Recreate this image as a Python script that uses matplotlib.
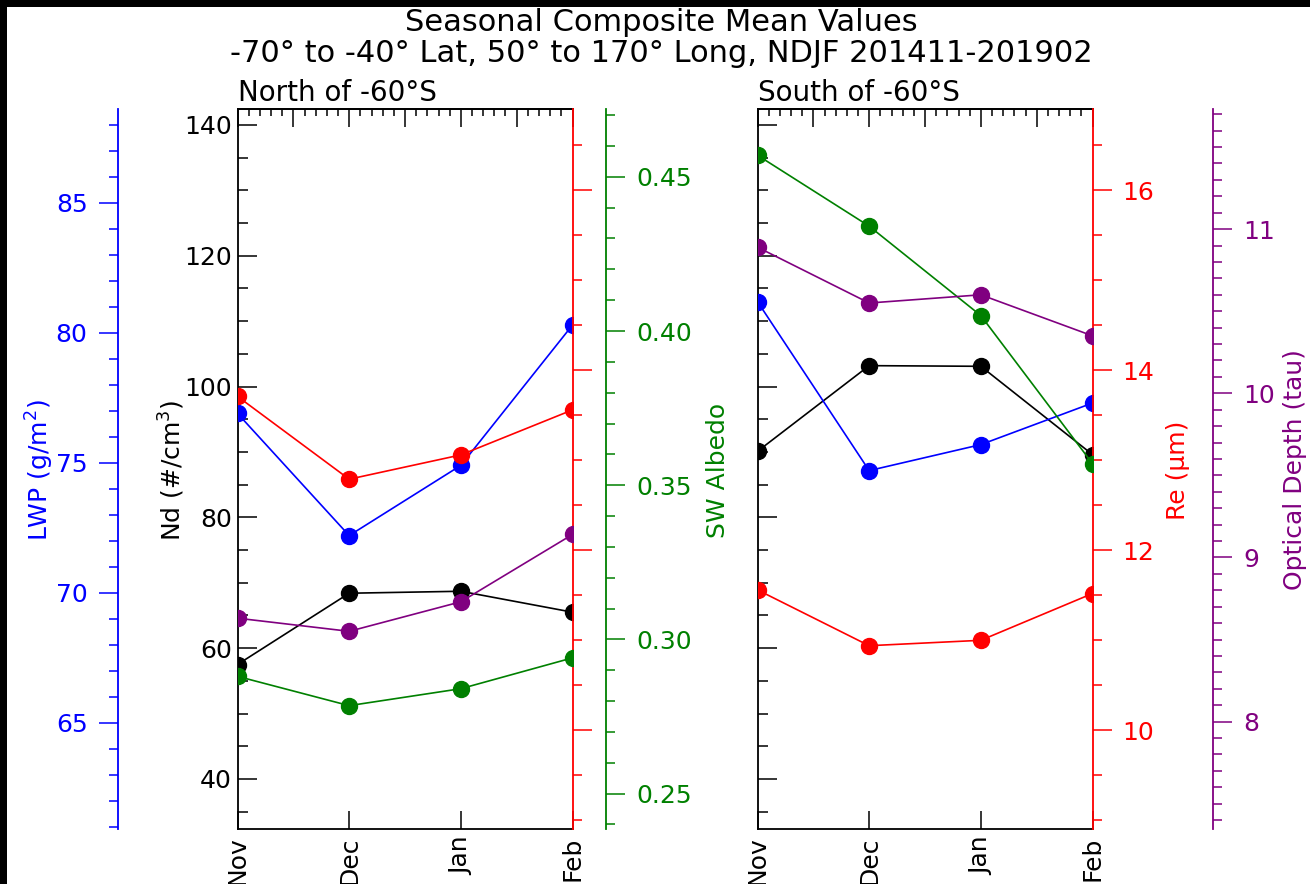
import matplotlib
matplotlib.use('Agg')
import matplotlib.pyplot as plt
from matplotlib.ticker import MultipleLocator, NullFormatter
from matplotlib.patches import Rectangle

months = ['Nov', 'Dec', 'Jan', 'Feb']

# North of -60S
north_nd = [57.5, 68.4, 68.7, 65.5]
north_lwp = [76.9, 72.2, 74.9, 80.3]
north_re = [13.71, 12.79, 13.06, 13.56]
north_albedo = [0.288, 0.2785, 0.284, 0.294]
north_tau = [8.63, 8.55, 8.73, 9.14]

# South of -60S
south_nd = [90.1, 103.2, 103.1, 89.6]
south_lwp = [81.2, 74.7, 75.7, 77.3]
south_re = [11.56, 10.94, 11.0, 11.52]
south_albedo = [0.457, 0.434, 0.405, 0.357]
south_tau = [10.89, 10.55, 10.60, 10.35]

# axis ranges (same in both panels)
nd_lim = (32.3, 142.4)
lwp_lim = (60.9, 88.6)
re_lim = (8.9, 16.9)
albedo_lim = (0.2384, 0.4719)
tau_lim = (7.344, 11.73)

W, H = 1310, 884
FS = 18
BLUE, RED, GREEN, PURPLE = '#0000ff', '#ff0000', '#008000', '#800080'
MS, LW = 11.5, 1.2

fig = plt.figure(figsize=(W / 100, H / 100), dpi=100)
fig.patch.set_facecolor('black')
fig.add_artist(Rectangle((7 / W, 0), 1, 1 - 7 / H, transform=fig.transFigure,
                         facecolor='white', edgecolor='none', zorder=-10))

x = list(range(len(months)))


def make_panel(left_px, title, nd_labels):
    ax = fig.add_axes([left_px / W, 54.7 / H, 335 / W, 720 / H])
    ax.set_xlim(0, 3)
    ax.set_xticks(x)
    ax.set_xticklabels(months, rotation=90, fontsize=FS, va='top')
    ax.tick_params(axis='x', direction='in', length=13, width=1.1, pad=5, top=False)
    # top axis: unlabeled ticks
    top = ax.secondary_xaxis('top')
    top.xaxis.set_major_locator(MultipleLocator(0.5))
    top.xaxis.set_minor_locator(MultipleLocator(0.1))
    top.xaxis.set_major_formatter(NullFormatter())
    top.tick_params(which='major', direction='in', length=13, width=1.1)
    top.tick_params(which='minor', direction='in', length=5, width=1.1)
    top.spines['top'].set_linewidth(1.3)
    ax.set_ylim(nd_lim)
    ax.yaxis.set_major_locator(MultipleLocator(20))
    ax.yaxis.set_minor_locator(MultipleLocator(5))
    ax.tick_params(axis='y', which='major', direction='in', length=14, width=1.1,
                   pad=4, labelsize=FS, labelleft=nd_labels)
    ax.tick_params(axis='y', which='minor', direction='in', length=7, width=1.1)
    ax.spines['right'].set_visible(False)
    for s in ('left', 'bottom', 'top'):
        ax.spines[s].set_linewidth(1.3)
    ax.set_title(title, loc='left', fontsize=20, pad=6)
    return ax


def add_twin(ax, data, lim, color, side=None, outward=0, major=None, minor=None,
             labels=True):
    t = ax.twinx()
    t.set_ylim(lim)
    for s in t.spines.values():
        s.set_visible(False)
    t.plot(x, data, 'o-', color=color, ms=MS, lw=LW)
    if side is None:
        t.yaxis.set_visible(False)
        return t
    sp = t.spines[side]
    sp.set_visible(True)
    sp.set_color(color)
    sp.set_linewidth(1.3)
    sp.set_position(('outward', outward))
    t.yaxis.set_ticks_position(side)
    t.yaxis.set_major_locator(MultipleLocator(major))
    t.yaxis.set_minor_locator(MultipleLocator(minor))
    t.tick_params(axis='y', which='major', direction='out', length=13.7, width=1.1,
                  color=color, labelcolor=color, labelsize=FS, pad=8)
    t.tick_params(axis='y', which='minor', direction='out', length=6.8, width=1.1,
                  color=color)
    if not labels:
        t.yaxis.set_major_formatter(NullFormatter())
    return t


# left panel: North of -60S
axn = make_panel(237.5, 'North of -60°S', True)
axn.plot(x, north_nd, 'o-', color='black', ms=MS, lw=LW)
add_twin(axn, north_lwp, lwp_lim, BLUE, 'left', 86.3, 5, 1)
add_twin(axn, north_re, re_lim, RED, 'right', 0, 2, 0.5, labels=False)
add_twin(axn, north_albedo, albedo_lim, GREEN, 'right', 24.1, 0.05, 0.01)
add_twin(axn, north_tau, tau_lim, PURPLE)

# right panel: South of -60S
axs = make_panel(757.5, 'South of -60°S', False)
axs.plot(x, south_nd, 'o-', color='black', ms=MS, lw=LW)
add_twin(axs, south_lwp, lwp_lim, BLUE)
add_twin(axs, south_re, re_lim, RED, 'right', 0, 2, 0.5)
add_twin(axs, south_albedo, albedo_lim, GREEN)
add_twin(axs, south_tau, tau_lim, PURPLE, 'right', 86.6, 1, 0.1)

# axis titles
yc = 1 - 470 / H
fig.text(40 / W, yc, 'LWP (g/m$^2$)', rotation=90, ha='center', va='center', color=BLUE, fontsize=FS)
fig.text(172 / W, yc, 'Nd (#/cm$^3$)', rotation=90, ha='center', va='center', color='black', fontsize=FS)
fig.text(718 / W, yc, 'SW Albedo', rotation=90, ha='center', va='center', color=GREEN, fontsize=FS)
fig.text(1178 / W, yc, 'Re (µm)', rotation=90, ha='center', va='center', color=RED, fontsize=FS)
fig.text(1295 / W, yc, 'Optical Depth (tau)', rotation=90, ha='center', va='center', color=PURPLE, fontsize=FS)

fig.text(661 / W, 1 - 31 / H, 'Seasonal Composite Mean Values', ha='center', va='baseline', fontsize=22)
fig.text(661 / W, 1 - 62 / H, '-70° to -40° Lat, 50° to 170° Long, NDJF 201411-201902',
         ha='center', va='baseline', fontsize=22)

fig.savefig('out.png', dpi=100, facecolor=fig.get_facecolor())
